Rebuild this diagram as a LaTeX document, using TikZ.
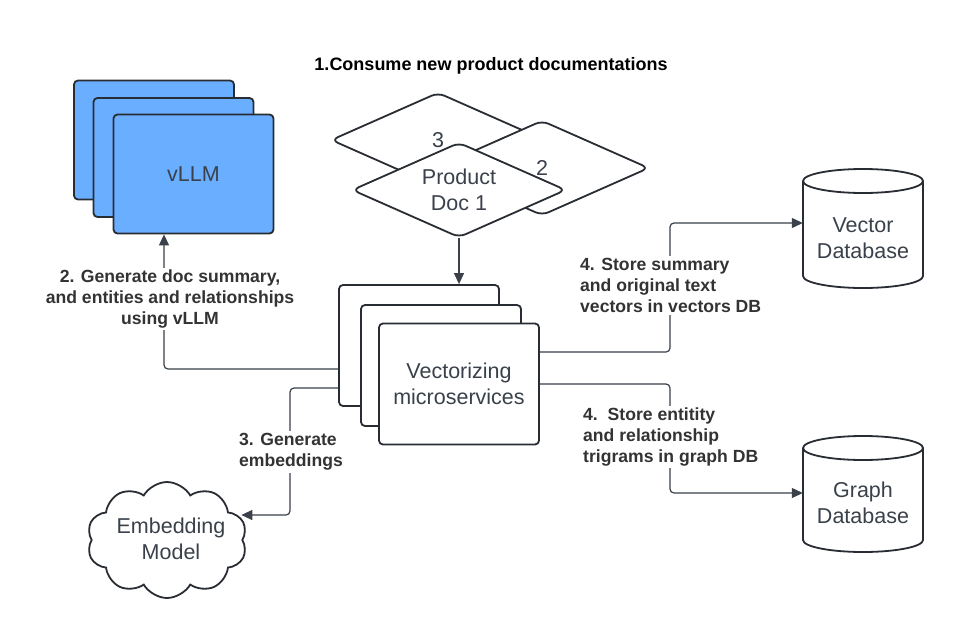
\documentclass[tikz,border=0pt]{standalone}
\usepackage{fontspec}
\setmainfont{Liberation Sans}
\usetikzlibrary{shapes.geometric,shapes.symbols,arrows.meta}
\definecolor{edgec}{RGB}{40,44,51}
\definecolor{linec}{RGB}{58,65,74}
\definecolor{txtc}{RGB}{58,65,74}
\definecolor{lblc}{RGB}{51,51,51}
\definecolor{vblue}{RGB}{106,174,255}
\tikzset{
 card/.style={draw=edgec, line width=1.8pt, rounded corners=4pt, minimum width=160pt, minimum height=119pt, inner sep=0pt, fill=white},
 bluecard/.style={card, fill=vblue},
 vcard/.style={card, minimum height=121pt},
 docshape/.style={diamond, draw=edgec, line width=1.8pt, rounded corners=7pt, fill=white, minimum width=214pt, minimum height=95pt, inner sep=0pt, aspect=2.25},
 nodetext/.style={text=txtc, font=\fontsize{21.5}{26}\selectfont, align=center},
 lbl/.style={text=lblc, font=\fontsize{17.6}{21}\selectfont\bfseries, fill=white, inner sep=2pt},
 conn/.style={draw=linec, line width=1.2pt, rounded corners=4pt},
 arr/.style={conn, -{Triangle[length=11pt,width=10pt]}},
 cyl/.style={draw=edgec, line width=1.8pt, fill=white},
 cloudsty/.style={cloud, cloud puffs=10, cloud puff arc=120, aspect=1.38, draw=edgec, line width=1.8pt, fill=white, minimum width=160pt, minimum height=116pt, inner sep=0pt},
}
\newcommand{\mycyl}[3]{%
 \filldraw[cyl] (#1,#2+12) -- (#1,#3-12) arc[start angle=180,end angle=360,x radius=60pt,y radius=12pt] -- (#1+120,#2+12) arc[start angle=0,end angle=180,x radius=60pt,y radius=12pt] -- cycle;
 \draw[cyl, fill=none] (#1,#2+12) arc[start angle=180,end angle=360,x radius=60pt,y radius=12pt];
}
\begin{document}
\begin{tikzpicture}[x=1pt,y=-1pt]
\useasboundingbox[fill=white] (0,0) rectangle (964,643);

% title
\node[text=black, font=\fontsize{18}{21}\selectfont\bfseries] (title) at (491,66) {1.Consume new product documentations};

% vLLM stack
\node[bluecard] (vllm3) at (154,140) {};
\node[bluecard] (vllm2) at (173.5,157.5) {};
\node[bluecard, nodetext] (vllm1) at (193.5,174) {vLLM};

% product docs
\node[docshape, nodetext] (pd3) at (438,140) {3};
\node[docshape, nodetext] (pd2) at (542,168) {2};
\node[docshape, nodetext] (pd1) at (459,190) {Product\\Doc 1};

% vectorizing stack
\node[vcard] (vec3) at (419,345.5) {};
\node[vcard] (vec2) at (441,365.5) {};
\node[vcard, nodetext] (vec1) at (459,384) {Vectorizing\\microservices};

% databases
\mycyl{803}{169}{288}
\node[nodetext, minimum width=120pt, inner sep=0pt] (vdb) at (863,238) {Vector\\Database};
\mycyl{803}{436}{552}
\node[nodetext, minimum width=120pt, inner sep=0pt] (gdb) at (863,503) {Graph\\Database};

% cloud
\node[cloudsty] (emb) at (167,540) {};
\node[nodetext] (embt) at (171,539) {Embedding\\Model};

% connectors
\draw[arr] (pd1.south) -- (pd1.south |- vec3.north);
\draw[arr] (vec3.west |- 0,369) -| (vllm1.south -| 164,0);
\node[lbl, align=center] (l2) at (170,299) {2. Generate doc summary,\\and entities and relationships\\using vLLM};

\draw[arr] (vec3.west |- 0,388) -- (290,388) |- ([xshift=-2pt]emb.east |- 0,515);
\node[lbl, align=left, anchor=west] (l3) at (237,452) {3. Generate\\embeddings};

\draw[arr] (vec1.east |- 0,352) -- (670,352) |- (vdb.west |- 0,223);
\node[lbl, align=left, anchor=west] (l4a) at (578,285.5) {4. Store summary\\and original text\\vectors in vectors DB};

\draw[arr] (vec1.east |- 0,384) -- (670,384) |- (gdb.west |- 0,493);
\node[lbl, align=left, anchor=west] (l4b) at (581,437) {4.~~Store entitity\\and relationship\\trigrams in graph DB};
\end{tikzpicture}
\end{document}
